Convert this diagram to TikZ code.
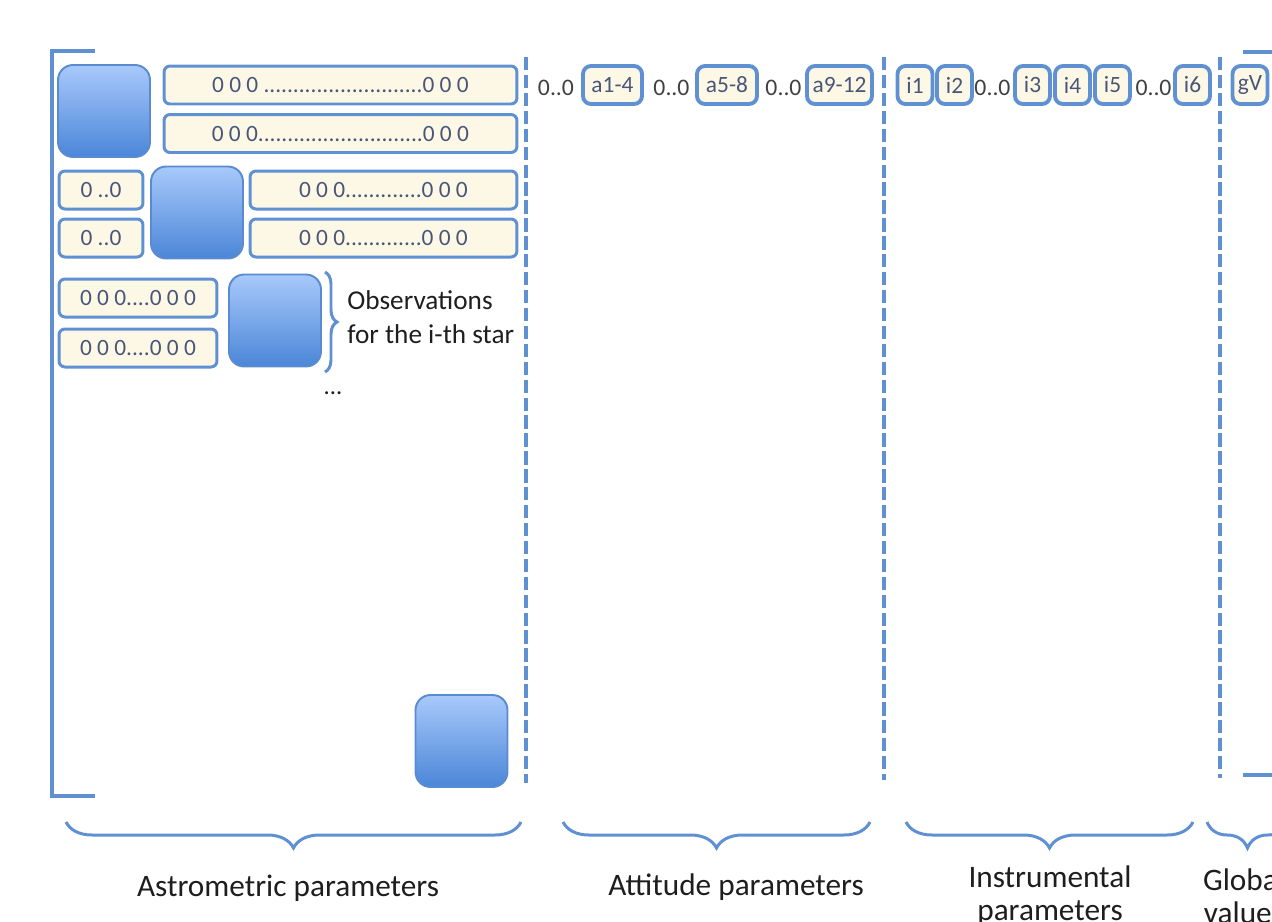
\documentclass[tikz,border=0pt]{standalone}
\usepackage{fontspec}
\setmainfont{Carlito}
\usetikzlibrary{decorations.pathreplacing}
\definecolor{boxline}{HTML}{5F91D2}
\definecolor{cream}{HTML}{FDF8E6}
\definecolor{boxtext}{HTML}{48567A}
\definecolor{sqtop}{HTML}{A8C9FB}
\definecolor{sqbot}{HTML}{4B86D8}
\definecolor{sqdraw}{HTML}{5A8BCF}
\definecolor{labeltext}{HTML}{1E1E1E}
\begin{document}
\begin{tikzpicture}
[x=0.02cm,y=-0.02cm,
  squaredecorate/.style={draw=sqdraw,line width=1.1pt,rounded corners=0.3cm,top color=sqtop,bottom color=sqbot,minimum width=1.84cm,minimum height=1.84cm,inner sep=0pt},%
  rowdecorate/.style={draw=boxline,line width=1.7pt,fill=cream,rounded corners=0.12cm,minimum height=0.76cm,inner sep=0pt,text=boxtext,font=\fontsize{13.3}{15}\selectfont},%
  paramdecorate/.style={rowdecorate,line width=2.2pt,rounded corners=0.16cm},%
  zerodecorate/.style={text=labeltext!85,inner sep=0pt,font=\fontsize{13.5}{15}\selectfont},%
  dashdecorate/.style={draw=boxline,line width=2.6pt,dash pattern=on 7.6pt off 2.6pt},%
  bracketdecorate/.style={draw=boxline,line width=2.4pt},%
  bracedecorate/.style={draw=boxline,line width=1.7pt,decorate,decoration={brace,amplitude=0.52cm}},%
  labeldecorate/.style={text=labeltext,align=center,font=\fontsize{17.8}{18.8}\selectfont}]
\useasboundingbox (0,0) rectangle (1272,921);
\clip (0,0) rectangle (1272,921);
%% blocks on the diagonal
\foreach \nodename/\x/\y in {sq1/104/111, sq2/197/212.5, sq3/275/320.5, sq4/461.5/741} {
  \node (\nodename) at (\x,\y) [squaredecorate] {};
}
%% rows of the astrometric part
\node (r1) at (340.5,85) [rowdecorate,minimum width=7.06cm] {0 0 0 ...........................0 0 0};
\node (r2) at (340.5,133.5) [rowdecorate,minimum width=7.06cm] {0 0 0............................0 0 0};
\foreach \nodename/\y in {3/190, 4/238} {
  \node (r\nodename a) at (101,\y) [rowdecorate,minimum width=1.68cm] {0 ..0};
  \node (r\nodename b) at (383.5,\y) [rowdecorate,minimum width=5.34cm] {0 0 0.............0 0 0};
}
\foreach \nodename/\y in {5/298, 6/348} {
  \node (r\nodename) at (138,\y) [rowdecorate,minimum width=3.16cm] {0 0 0....0 0 0};
}
%% observations of one star
\draw[bracedecorate,decoration={amplitude=0.24cm}] (325,272) -- (325,372);
\node (obs) at (347,317) [anchor=west,align=left,inner sep=0pt,text=labeltext,font=\fontsize{15.5}{19.3}\selectfont] {Observations\\for the i-th star};
\node (more) at (333,393) [text=labeltext,font=\fontsize{14}{16}\selectfont] {...};
%% attitude, instrumental and global parameters
\foreach \nodename/\x/\w/\txt in {a1/612.5/1.18/a1-4, a2/727/1.2/a5-8, a3/839.5/1.3/a9-12,
  i1/915/0.7/i1, i2/954.5/0.7/i2, i3/1032.5/0.7/i3, i4/1072.5/0.7/i4, i5/1112.5/0.7/i5,
  i6/1192.5/0.7/i6, gv/1250/0.7/gV} {
  \node (\nodename) at (\x,85) [paramdecorate,minimum width=\w cm] {\txt};
}
\foreach \nodename/\x in {z1/556, z2/671.5, z3/783.5, z4/992.5, z5/1153.5} {
  \node (\nodename) at (\x,88) [zerodecorate] {0..0};
}
%% separators and brackets
\foreach \x/\y in {526/783, 884/780, 1220/778} {
  \draw[dashdecorate] (\x,57) -- (\x,\y);
}
\draw[bracketdecorate] (95,51) -- (52,51) -- (52,796) -- (95,796);
\draw[bracketdecorate] (1243,52) -- (1278,52) -- (1278,775) -- (1243,775);
%% braces and labels
\draw[bracedecorate] (521,822) -- (66,822);
\draw[bracedecorate] (870,822) -- (563,822);
\draw[bracedecorate] (1193,822) -- (906,822);
\draw[bracedecorate] (1288,822) -- (1207,822);
\node (astro) at (288,888) [labeldecorate] {Astrometric parameters};
\node (att) at (736,887) [labeldecorate] {Attitude parameters};
\node (instr) at (1050,896) [labeldecorate] {Instrumental\\parameters};
\node (glob) at (1244,896) [labeldecorate] {Global\\values};
\end{tikzpicture}
\end{document}
